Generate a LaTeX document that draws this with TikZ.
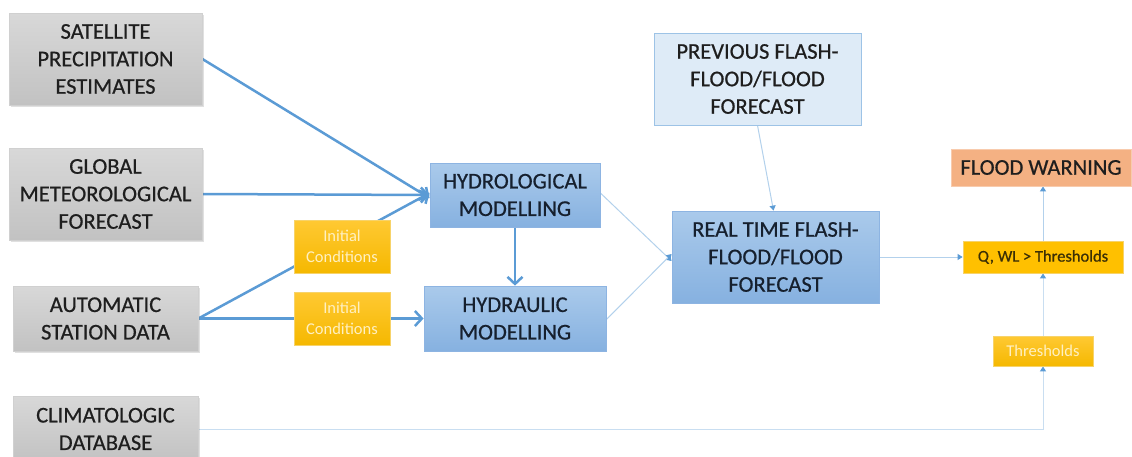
\documentclass[tikz,border=0pt]{standalone}
\usepackage{fontspec}
\setmainfont{Carlito}
\usetikzlibrary{arrows.meta,shadows,backgrounds}
\definecolor{greytop}{HTML}{D8D8D8}
\definecolor{greybot}{HTML}{C2C2C2}
\definecolor{greyline}{HTML}{D0D0D0}
\definecolor{greytext}{HTML}{1E1E1E}
\definecolor{bluetop}{HTML}{AACAEB}
\definecolor{bluebot}{HTML}{86B1E0}
\definecolor{blueline}{HTML}{8DB4E2}
\definecolor{bluetext}{HTML}{16202E}
\definecolor{palefill}{HTML}{DEEBF7}
\definecolor{paleline}{HTML}{9DC3E6}
\definecolor{yeltop}{HTML}{FFC933}
\definecolor{yelbot}{HTML}{F5B800}
\definecolor{yelline}{HTML}{F7D36A}
\definecolor{yeltext}{HTML}{FFF0C2}
\definecolor{qfill}{HTML}{FFC000}
\definecolor{qtext}{HTML}{3B2F05}
\definecolor{salmon}{HTML}{F4B183}
\definecolor{salmonline}{HTML}{F8CBAD}
\definecolor{arrowblue}{HTML}{5B9BD5}
\definecolor{thinblue}{HTML}{B3D1EC}
\definecolor{faintblue}{HTML}{C9DEF1}
\newcommand{\bigfont}{\fontsize{22.5}{27.5}\selectfont\addfontfeature{FakeBold=0.6}}
\newcommand{\smallfont}{\fontsize{16.5}{21}\selectfont}
\newcommand{\qfont}{\fontsize{16.5}{21}\selectfont\addfontfeature{FakeBold=0.6}}
\tikzset{
  box/.style={inner sep=0pt, align=center, line width=0.8pt},
  greybox/.style={box, draw=greyline, top color=greytop, bottom color=greybot,
    text=greytext, font=\bigfont,
    drop shadow={shadow xshift=1.5pt, shadow yshift=-1.5pt, opacity=0.2, fill=black!60}},
  bluebox/.style={box, draw=blueline, top color=bluetop, bottom color=bluebot,
    text=bluetext, font=\bigfont},
  palebox/.style={box, draw=paleline, fill=palefill, text=greytext, font=\bigfont},
  yelbox/.style={box, draw=yelline, top color=yeltop, bottom color=yelbot,
    text=yeltext, font=\smallfont},
  qbox/.style={box, draw=yelline, fill=qfill, text=qtext, font=\qfont},
  warnbox/.style={box, draw=salmonline, fill=salmon, text=greytext, font=\bigfont},
  thick conn/.style={line width=2.5pt, color=arrowblue,
    -{Straight Barb[length=7pt,width=15pt,line width=2.5pt]}},
  thin conn/.style={line width=1pt, color=thinblue,
    -{Triangle[length=5pt,width=6pt,color=arrowblue]}},
  faint conn/.style={line width=1pt, color=faintblue,
    -{Triangle[length=5pt,width=6pt,color=arrowblue]}},
}
\begin{document}
\begin{tikzpicture}[x=1pt,y=-1pt]
\useasboundingbox (0,0) rectangle (1132,456);
% nodes
\node[greybox, minimum width=193pt, minimum height=92pt] (sat) at (105.5,59) {SATELLITE\\PRECIPITATION\\ESTIMATES};
\node[greybox, minimum width=193pt, minimum height=92pt] (glob) at (105.5,194) {GLOBAL\\METEOROLOGICAL\\FORECAST};
\node[greybox, minimum width=185pt, minimum height=65pt] (auto) at (105.5,318.5) {AUTOMATIC\\STATION DATA};
\node[greybox, minimum width=185pt, minimum height=66pt] (clim) at (105.5,429) {CLIMATOLOGIC\\DATABASE};
\node[yelbox, minimum width=96pt, minimum height=53pt] (ic1) at (342,246.5) {Initial\\Conditions};
\node[yelbox, minimum width=96pt, minimum height=53pt] (ic2) at (342,318.5) {Initial\\Conditions};
\node[bluebox, minimum width=170pt, minimum height=64pt] (hyd) at (515,195) {HYDROLOGICAL\\MODELLING};
\node[bluebox, minimum width=182pt, minimum height=65pt] (hydr) at (515,318.5) {HYDRAULIC\\MODELLING};
\node[palebox, minimum width=207pt, minimum height=92pt] (prev) at (757.5,79) {PREVIOUS FLASH-\\FLOOD/FLOOD\\FORECAST};
\node[bluebox, minimum width=207pt, minimum height=92pt] (rt) at (775.5,257) {REAL TIME FLASH-\\FLOOD/FLOOD\\FORECAST};
\node[warnbox, minimum width=180pt, minimum height=37pt] (fw) at (1041,167.5) {FLOOD WARNING};
\node[qbox, minimum width=160pt, minimum height=32pt] (q) at (1043,257) {Q, WL > Thresholds};
\node[yelbox, minimum width=100pt, minimum height=30pt] (thr) at (1043,351) {Thresholds};
% connectors
\begin{scope}[on background layer]
\fill[white] (0,0) rectangle (1132,456);
\draw[thick conn] (sat.east) -- ([yshift=-3pt]hyd.west);
\draw[thick conn] (glob.east) -- (hyd.west);
\draw[thick conn] (auto.east) -- ([yshift=2pt]hyd.west);
\draw[thick conn] (auto.east) -- (hydr.west);
\draw[thick conn] (hyd.south) -- (hydr.north);
\draw[thin conn] ([yshift=2pt]hyd.east) -- ([yshift=-4pt]rt.west);
\draw[thin conn] ([yshift=-1pt]hydr.east) -- ([yshift=3pt]rt.west);
\draw[thin conn] (prev.south) -- ([xshift=-2pt]rt.north);
\draw[thin conn] (rt.east) -- (q.west);
\draw[thin conn] (q.north) -- (fw.south -| q.north);
\draw[faint conn] (thr.north) -- (q.south);
\draw[faint conn] (clim.east) -| (thr.south);
\end{scope}
\end{tikzpicture}
\end{document}
